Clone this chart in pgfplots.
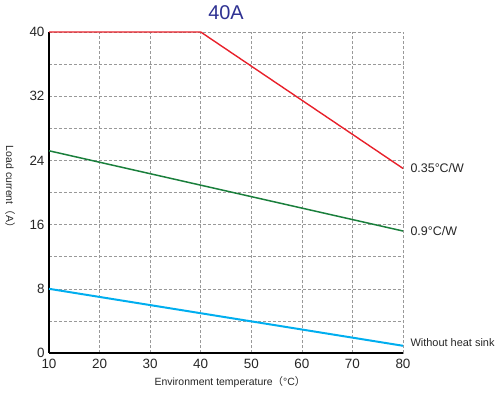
\documentclass[border=0pt]{standalone}
\usepackage{pgfplots}
\pgfplotsset{compat=1.18}
\usepackage{fontspec}
\setmainfont{Liberation Sans}
\newfontfamily\cjk{Noto Sans CJK SC}
\definecolor{cred}{HTML}{E8202A}
\definecolor{cgreen}{HTML}{1A7F3C}
\definecolor{cblue}{HTML}{00AEEF}
\definecolor{ctitle}{HTML}{2E3192}
\begin{document}
\begin{tikzpicture}
\begin{axis}[
  at={(0,0)}, anchor=south west,
  scale only axis, width=354bp, height=321bp,
  xmin=10, xmax=80, ymin=0, ymax=40,
  xtick={10,20,...,80},
  ytick={0,8,...,40},
  minor ytick={4,12,...,36},
  grid=both,
  major grid style={densely dashed, gray!80, line width=0.6pt},
  minor grid style={densely dashed, gray!80, line width=0.6pt},
  axis x line*=bottom, axis y line*=left,
  axis line style={line width=1.6pt, black, -},
  tick style={draw=none},
  /pgf/number format/assume math mode=true,
  ticklabel style={font=\fontsize{13.5}{15}\selectfont, text=black!85},
  xticklabel style={yshift=-3bp},
  yticklabel style={xshift=-1bp},
  title={\fontsize{20}{22}\selectfont 40A},
  title style={text=ctitle, at={(axis description cs:0.5,1)}, anchor=base, yshift=7bp},
  xlabel={Environment temperature{\cjk（}°C{\cjk）}},
  xlabel style={font=\fontsize{10.5}{12}\selectfont, text=black!85, at={(axis description cs:0.5,0)}, anchor=center, yshift=-29bp, xshift=4bp},
  clip=false,
]
\addplot[cred, line width=1.4pt] coordinates {(10,40) (40,40) (80,23)};
\addplot[cgreen, line width=1.5pt] coordinates {(10,25.2) (80,15.2)};
\addplot[cblue, line width=2pt] coordinates {(10,8) (80,0.9)};
\node[anchor=west, font=\fontsize{12.5}{14}\selectfont, text=black!85] at (axis cs:80,23) {\hspace{4bp}0.35°C/W};
\node[anchor=west, font=\fontsize{12.5}{14}\selectfont, text=black!85] at (axis cs:80,15.2) {\hspace{4bp}0.9°C/W};
\node[anchor=west, font=\fontsize{11}{13}\selectfont, text=black!85] at (axis cs:80,1.3) {\hspace{4bp}Without heat sink};
\node[rotate=-90, anchor=center, font=\fontsize{10.5}{12}\selectfont, text=black!85] at ([xshift=-39bp]rel axis cs:0,0.51) {Load current{\cjk（}A{\cjk）}};
\end{axis}
\pgfresetboundingbox
\path[use as bounding box] (-49bp,-40bp) rectangle (454bp,353bp);
\end{tikzpicture}
\end{document}
